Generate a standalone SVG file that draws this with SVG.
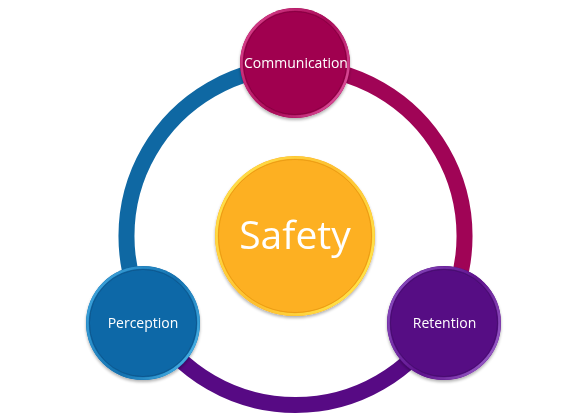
<svg xmlns="http://www.w3.org/2000/svg" width="577" height="415" viewBox="0 0 577 415">
<defs>
<style>
.ring{fill:none;stroke-width:16;stroke-linecap:butt}
.lbl{font-family:"Open Sans","Noto Sans","DejaVu Sans",sans-serif;fill:#ffffff;text-anchor:middle;font-size:14px}
.big{font-size:39px}
.rim{fill:none;stroke-width:2.5}
.in{fill:none;stroke-width:1;stroke-opacity:0.6}
</style>
<linearGradient id="gY" x1="0" y1="0.2" x2="1" y2="0.8"><stop offset="0" stop-color="#FFE24A"/><stop offset="0.5" stop-color="#FDC030"/><stop offset="1" stop-color="#FFE84C"/></linearGradient>
<linearGradient id="gM" x1="0" y1="0.2" x2="1" y2="0.8"><stop offset="0" stop-color="#D8418C"/><stop offset="0.55" stop-color="#A80A58"/><stop offset="1" stop-color="#E055A0"/></linearGradient>
<linearGradient id="gB" x1="0" y1="0.2" x2="1" y2="0.8"><stop offset="0" stop-color="#3FA6DE"/><stop offset="0.55" stop-color="#1270AE"/><stop offset="1" stop-color="#4CB6EA"/></linearGradient>
<linearGradient id="gP" x1="0" y1="0.2" x2="1" y2="0.8"><stop offset="0" stop-color="#8A4EC0"/><stop offset="0.55" stop-color="#5E128C"/><stop offset="1" stop-color="#9C62CC"/></linearGradient>
<filter id="sh" x="-20%" y="-20%" width="140%" height="140%">
<feGaussianBlur in="SourceAlpha" stdDeviation="1.5"/>
<feOffset dx="0" dy="1.5" result="b"/>
<feComponentTransfer><feFuncA type="linear" slope="0.3"/></feComponentTransfer>
<feMerge><feMergeNode/><feMergeNode in="SourceGraphic"/></feMerge>
</filter>
</defs>
<rect width="577" height="415" fill="#ffffff"/>
<g id="connectors">
<path class="ring" stroke="#A00456" d="M295.5 67 A169 169 0 0 1 441.9 320.5"/>
<path class="ring" stroke="#570A84" d="M441.9 320.5 A169 169 0 0 1 149.1 320.5"/>
<path class="ring" stroke="#0F68A3" d="M149.1 320.5 A169 169 0 0 1 295.5 67"/>
</g>
<g id="safety" filter="url(#sh)">
<circle cx="295" cy="236" r="80" fill="#FDB022"/>
<circle class="rim" cx="295" cy="236" r="78.5" stroke="url(#gY)"/>
<circle class="in" cx="295" cy="236" r="76.5" stroke="#E08F08"/>
<text class="lbl big" x="295" y="249">Safety</text>
</g>
<g id="communication" filter="url(#sh)">
<circle cx="295" cy="63" r="55" fill="#A0044F"/>
<circle class="rim" cx="295" cy="63" r="53.5" stroke="url(#gM)"/>
<circle class="in" cx="295" cy="63" r="51.5" stroke="#7A003A"/>
<text class="lbl" x="296" y="68">Communication</text>
</g>
<g id="perception" filter="url(#sh)">
<circle cx="143" cy="323" r="57" fill="#0D68A7"/>
<circle class="rim" cx="143" cy="323" r="55.5" stroke="url(#gB)"/>
<circle class="in" cx="143" cy="323" r="53.5" stroke="#084E80"/>
<text class="lbl" x="143" y="328">Perception</text>
</g>
<g id="retention" filter="url(#sh)">
<circle cx="444" cy="323" r="57" fill="#570A84"/>
<circle class="rim" cx="444" cy="323" r="55.5" stroke="url(#gP)"/>
<circle class="in" cx="444" cy="323" r="53.5" stroke="#3E0564"/>
<text class="lbl" x="444.5" y="328">Retention</text>
</g>
</svg>
